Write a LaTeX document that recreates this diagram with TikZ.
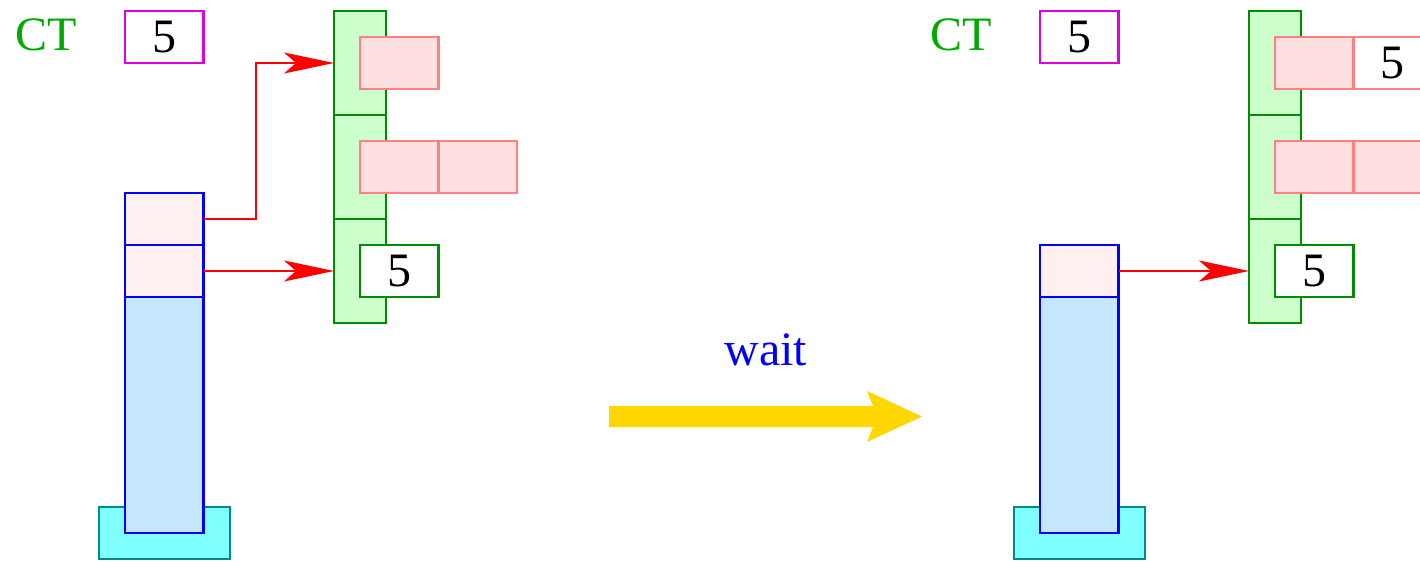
\documentclass[tikz,border=0pt]{standalone}
\usepackage{fontspec}
\setmainfont{Liberation Serif}
\usetikzlibrary{arrows.meta}
\definecolor{colgreen}{HTML}{CCFFCC}
\definecolor{colgreenline}{HTML}{008C00}
\definecolor{ctgreen}{HTML}{00AA00}
\definecolor{pinkfill}{HTML}{FFE0E0}
\definecolor{pinkline}{HTML}{FF8080}
\definecolor{stackpink}{HTML}{FFF0F0}
\definecolor{stackblue}{HTML}{C4E6FF}
\definecolor{basecyan}{HTML}{80FFFF}
\definecolor{baseline}{HTML}{008B8B}
\definecolor{magline}{HTML}{DD00DD}
\definecolor{goldarrow}{HTML}{FFD700}
\begin{document}
\begin{tikzpicture}[x=0.5pt,y=-0.5pt,
  every node/.style={font=\fontsize{24}{28}\selectfont},
  cell/.style={draw, line width=1.1pt, anchor=north west, inner sep=0pt, outer sep=0pt,
    minimum width=39.25pt, minimum height=26pt},
  colseg/.style={cell, draw=colgreenline, fill=colgreen, minimum width=26pt, minimum height=52pt},
  ptr/.style={cell, draw=pinkline, fill=pinkfill},
  valbox/.style={cell, draw=pinkline, fill=white},
  gval/.style={cell, draw=colgreenline, fill=white},
  ctbox/.style={cell, draw=magline, fill=white},
  stk/.style={cell, draw=blue, fill=stackpink},
  stkbody/.style={cell, draw=blue, fill=stackblue, minimum height=118pt},
  base/.style={cell, draw=baseline, fill=basecyan, minimum width=65.5pt},
  ctlabel/.style={text=ctgreen, anchor=base, inner sep=0pt},
  redarrow/.style={draw=red, line width=1pt, -{Stealth[length=25pt, width=10.5pt, inset=6pt]}}
]
\useasboundingbox (0,0) rectangle (1420,562);
\clip (0,0) rectangle (1420,562);

% ---------- left panel ----------
\node[ctlabel] (ctA) at (46,50) {CT};
\node[ctbox] (ctboxA) at (125,11) {5};

\node[colseg] (gA1) at (334,11) {};
\node[colseg] (gA2) at (334,115) {};
\node[colseg] (gA3) at (334,219) {};

\node[ptr] (pA1) at (360,37) {};
\node[ptr] (pA2) at (360,141) {};
\node[ptr] (pA3) at (438.5,141) {};
\node[gval] (vA) at (360,245) {5};

\node[base] (baseA) at (99,507) {};
\node[stkbody] (sA3) at (125,297) {};
\node[stk] (sA1) at (125,193) {};
\node[stk] (sA2) at (125,245) {};

\draw[redarrow] (sA1.east) -- ++(52,0) |- (gA1.west);
\draw[redarrow] (sA2.east) -- (gA3.west);

% ---------- transition ----------
\node[text=blue, anchor=base, inner sep=0pt] (waitlbl) at (766,365) {wait};
\coordinate (yA) at (609,416.5);
\coordinate (yB) at (922,416.5);
\fill[goldarrow] (609,406) -- (873,406) -- (867,391) -- (yB) -- (867,442) -- (873,427) -- (609,427) -- cycle;

% ---------- right panel ----------
\node[ctlabel] (ctB) at (961,50) {CT};
\node[ctbox] (ctboxB) at (1040,11) {5};

\node[colseg] (gB1) at (1249,11) {};
\node[colseg] (gB2) at (1249,115) {};
\node[colseg] (gB3) at (1249,219) {};

\node[ptr] (pB1) at (1275,37) {};
\node[valbox] (pB1v) at (1353.5,37) {5};
\node[ptr] (pB2) at (1275,141) {};
\node[ptr] (pB3) at (1353.5,141) {};
\node[gval] (vB) at (1275,245) {5};

\node[base] (baseB) at (1014,507) {};
\node[stkbody] (sB2) at (1040,297) {};
\node[stk] (sB1) at (1040,245) {};

\draw[redarrow] (sB1.east) -- (gB3.west);
\end{tikzpicture}
\end{document}
